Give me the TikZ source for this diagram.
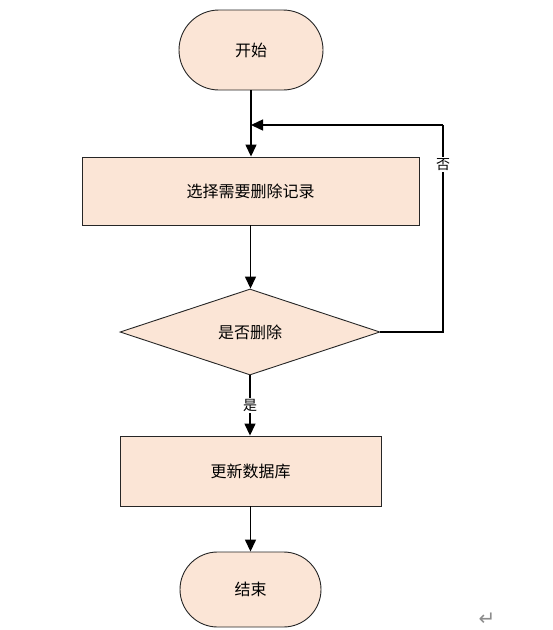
\documentclass[tikz,border=0pt]{standalone}
\usepackage{fontspec}
\newfontfamily\cjk{Noto Sans CJK SC}
\newfontfamily\djv{DejaVu Sans}
\usetikzlibrary{shapes.misc,shapes.geometric,arrows.meta}
\definecolor{peach}{RGB}{251,229,214}
\begin{document}
\begin{tikzpicture}[x=1pt,y=-1pt,
  every node/.style={font=\cjk\fontsize{16pt}{18pt}\selectfont},
  term/.style={rounded rectangle, draw=black!85, fill=peach, line width=0.9pt, minimum width=144pt, minimum height=80pt, inner sep=0pt},
  proc/.style={rectangle, draw=black!85, fill=peach, line width=0.9pt, inner sep=0pt},
  dec/.style={diamond, draw=black!85, fill=peach, line width=0.9pt, minimum width=260pt, minimum height=86pt, inner sep=0pt},
  conn/.style={line width=1.4pt, -{Triangle[length=12pt,width=11pt]}},
  lbl/.style={fill=white, inner sep=1.5pt, font=\cjk\fontsize{14pt}{16pt}\selectfont}
]
\useasboundingbox (0,0) rectangle (553,630);
\node[term] (start) at (251,50) {开始};
\node[proc, minimum width=337pt, minimum height=68pt] (sel) at (250.5,191) {选择需要删除记录};
\node[dec] (ask) at (250,332) {是否删除};
\node[proc, minimum width=261pt, minimum height=70pt] (upd) at (250.5,471) {更新数据库};
\node[term, minimum width=141pt, minimum height=75pt] (end) at (250.5,589.5) {结束};
\coordinate (ret) at (251,125);
\coordinate (c2) at (443,125);
\coordinate (c1) at (ask.east -| c2);

\draw[conn] (start.south) -- (start.south |- sel.north);
\draw[conn] (sel.south) -- (sel.south |- ask.north);
\draw[conn] (ask.south) -- node[lbl, pos=0.5] {是} (ask.south |- upd.north);
\draw[conn] (upd.south) -- (upd.south |- end.north);
\draw[line width=1.4pt] (ask.east) -- (c1) -- node[lbl, pos=0.81] {否} (c2);
\draw[conn] (c2) -- (ret);
\node[text=black!45, font=\djv\fontsize{20pt}{22pt}\selectfont] (mark) at (487,619) {↵};
\end{tikzpicture}
\end{document}
